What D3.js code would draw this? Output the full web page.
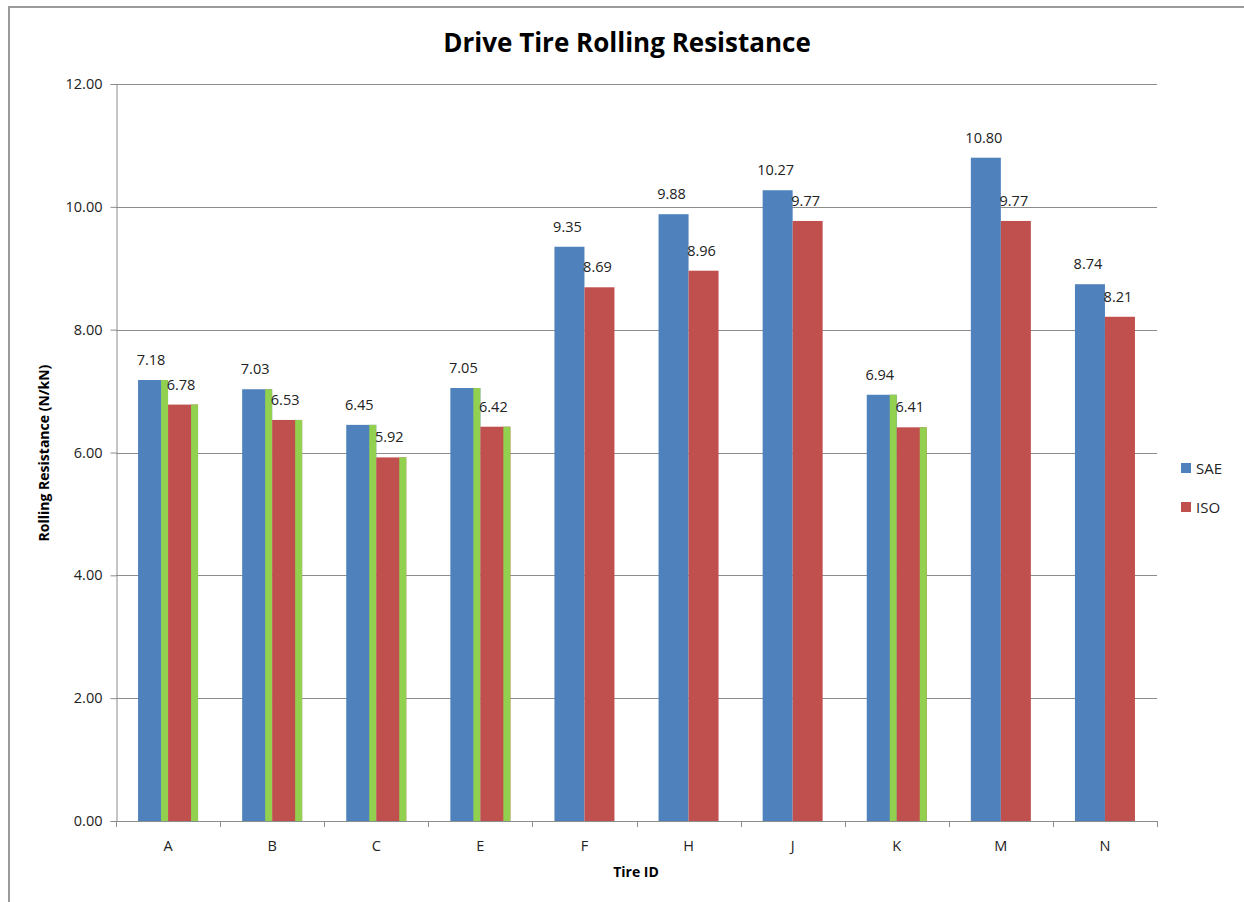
<!DOCTYPE html>
<html>
<head>
<meta charset="utf-8">
<script src="https://cdn.jsdelivr.net/npm/d3@7"></script>
<style>
  html, body { margin: 0; padding: 0; background: #fff; }
  svg { display: block; font-family: "Open Sans", "Liberation Sans", sans-serif; }
</style>
</head>
<body>
<svg id="chart" width="1244" height="902"></svg>
<script>
// Tire IDs along the x axis
const categories = ["A", "B", "C", "E", "F", "H", "J", "K", "M", "N"];
// Rolling resistance (N/kN) per measurement standard
const saeValues = [7.18, 7.03, 6.45, 7.05, 9.35, 9.88, 10.27, 6.94, 10.80, 8.74];
const isoValues = [6.78, 6.53, 5.92, 6.42, 8.69, 8.96, 9.77, 6.41, 9.77, 8.21];
// Tires marked with a green edge stripe on their bars
const stripeFlags = [true, true, true, true, false, false, false, true, false, false];
const seriesNames = ["SAE", "ISO"];
const yTicks = [0, 2, 4, 6, 8, 10, 12];

const colors = { SAE: "#4F81BD", ISO: "#C0504D", stripe: "#92D050" };

const svg = d3.select("#chart");

// outer frame
svg.append("path")
  .attr("d", "M9,902 L9,7 L1244,7")
  .attr("fill", "none").attr("stroke", "#9a9a9a").attr("stroke-width", 2);

const plot = { left: 116, right: 1157, top: 84, bottom: 821 };

const x = d3.scaleBand().domain(categories).range([plot.left, plot.right]);
const y = d3.scaleLinear().domain([0, 12]).range([plot.bottom, plot.top]);
const barW = 30;
const sub = d3.scaleBand().domain(seriesNames).range([0, barW * 2]);

// title
svg.append("text")
  .attr("x", 627).attr("y", 52)
  .attr("text-anchor", "middle")
  .attr("font-size", 26).attr("font-weight", "bold")
  .attr("fill", "#000")
  .text("Drive Tire Rolling Resistance");

// gridlines
svg.append("g").selectAll("line")
  .data(yTicks.filter(t => t > 0))
  .join("line")
  .attr("x1", plot.left).attr("x2", plot.right)
  .attr("y1", d => Math.round(y(d)) + 0.5).attr("y2", d => Math.round(y(d)) + 0.5)
  .attr("stroke", "#8c8c8c").attr("stroke-width", 1);

// y axis
const yAxis = d3.axisLeft(y).tickValues(yTicks).tickFormat(d3.format(".2f")).tickSize(6).tickPadding(8);
const gy = svg.append("g").attr("transform", `translate(${plot.left + 0.5},0)`).call(yAxis);
gy.select(".domain").attr("stroke", "#8c8c8c");
gy.selectAll(".tick line").attr("stroke", "#8c8c8c");
gy.selectAll(".tick text").attr("font-size", 14.5).attr("fill", "#222").attr("font-family", "Open Sans, sans-serif");

// bars
const groups = svg.append("g").selectAll("g")
  .data(categories.map((c, i) => ({ c, i })))
  .join("g")
  .attr("transform", d => `translate(${x(d.c) + x.bandwidth() / 2 - barW},0)`);

seriesNames.forEach((s, si) => {
  const vals = si === 0 ? saeValues : isoValues;
  groups.append("rect")
    .attr("x", sub(s))
    .attr("width", barW)
    .attr("y", d => y(vals[d.i]))
    .attr("height", d => y(0) - y(vals[d.i]))
    .attr("fill", colors[s]);
  groups.filter(d => stripeFlags[d.i]).append("rect")
    .attr("x", sub(s) + barW - 7)
    .attr("width", 7)
    .attr("y", d => y(vals[d.i]))
    .attr("height", d => y(0) - y(vals[d.i]))
    .attr("fill", colors.stripe);
  groups.append("text")
    .attr("x", sub(s) + barW / 2 - 2)
    .attr("y", d => y(vals[d.i]) - 15)
    .attr("text-anchor", "middle")
    .attr("font-size", 14.5).attr("fill", "#222")
    .text(d => vals[d.i].toFixed(2));
});

// x axis
const xAxis = d3.axisBottom(x).tickSize(0).tickPadding(19);
const gx = svg.append("g").attr("transform", `translate(0,${plot.bottom + 0.5})`).call(xAxis);
gx.select(".domain").attr("stroke", "#8c8c8c").attr("d", `M${plot.left},0H${plot.right}`);
gx.selectAll(".tick text").attr("font-size", 14.5).attr("fill", "#222").attr("font-family", "Open Sans, sans-serif");
// category boundary ticks
svg.append("g").selectAll("line")
  .data(d3.range(categories.length + 1))
  .join("line")
  .attr("x1", i => Math.round(plot.left + i * x.step()) + 0.5)
  .attr("x2", i => Math.round(plot.left + i * x.step()) + 0.5)
  .attr("y1", plot.bottom).attr("y2", plot.bottom + 6)
  .attr("stroke", "#8c8c8c");

// axis titles
svg.append("text")
  .attr("x", 636).attr("y", 877)
  .attr("text-anchor", "middle")
  .attr("font-size", 14).attr("font-weight", "bold")
  .text("Tire ID");
svg.append("text")
  .attr("transform", "translate(49,453) rotate(-90)")
  .attr("text-anchor", "middle")
  .attr("font-size", 14).attr("font-weight", "bold")
  .text("Rolling Resistance (N/kN)");

// legend
const legend = svg.append("g").selectAll("g")
  .data(seriesNames)
  .join("g")
  .attr("transform", (d, i) => `translate(1181,${463 + i * 39})`);
legend.append("rect").attr("width", 10).attr("height", 10).attr("fill", d => colors[d]);
legend.append("text").attr("x", 15).attr("y", 11)
  .attr("font-size", 15).attr("fill", "#222").text(d => d);
</script>
</body>
</html>
